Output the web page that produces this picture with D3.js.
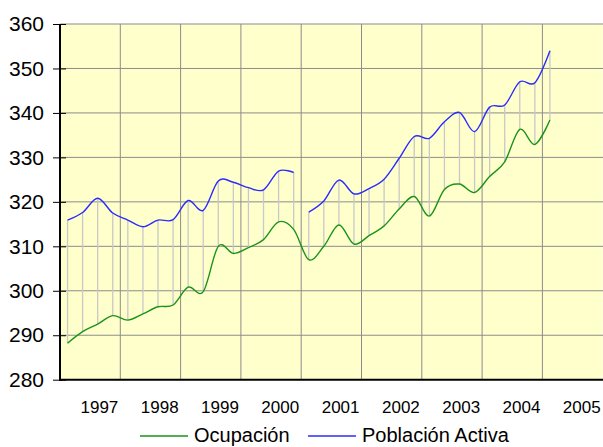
<!DOCTYPE html>
<html>
<head>
<meta charset="utf-8">
<script src="https://cdn.jsdelivr.net/npm/d3@7"></script>
<style>
  html, body { margin: 0; padding: 0; background: #ffffff; }
  svg { display: block; font-family: "Liberation Sans", Arial, sans-serif; }
</style>
</head>
<body>
<svg id="chart" width="603" height="447"></svg>
<script>
// ---- data ----
const years = ["1997", "1998", "1999", "2000", "2001", "2002", "2003", "2004", "2005"];
const yTicks = [280, 290, 300, 310, 320, 330, 340, 350, 360];
// quarterly values (33 quarters)
const ocupacion = [288.2, 290.8, 292.5, 294.4, 293.4, 294.8, 296.4, 296.8, 300.8,
  299.8, 310.0, 308.4, 309.7, 311.5, 315.5, 313.8, 307.0, 310.0, 314.8, 310.5,
  312.4, 314.6, 318.4, 321.2, 316.8, 322.8, 324.0, 322.1, 325.7, 329.0, 336.3,
  332.9, 338.4];
const poblacionActiva = [315.9, 317.6, 320.8, 317.5, 315.9, 314.4, 315.9, 316.0, 320.3,
  318.1, 324.7, 324.4, 323.2, 322.7, 326.9, 326.6, 317.7, 320.2, 324.9, 321.8,
  323.0, 325.1, 329.8, 334.7, 334.3, 338.0, 340.1, 335.8, 341.3, 341.8, 347.0,
  346.8, 354.0];
const poblacionBreaks = [16]; // series restarts (not joined) at this quarter index
const seriesNames = ["Ocupación", "Población Activa"];
const seriesColors = ["#1a931a", "#2b2bff"];

// ---- layout ----
const svg = d3.select("#chart");
const plot = { left: 60, top: 24, right: 602.7, bottom: 379.7 };

const xBand = d3.scaleBand().domain(years).range([plot.left, plot.right]).padding(0);
const quartersPerYear = 4;
const xQ = d3.scaleLinear().domain([0, years.length * quartersPerYear]).range([plot.left, plot.right]);
const y = d3.scaleLinear().domain([280, 360]).range([plot.bottom, plot.top]);

// plot background
svg.append("rect")
  .attr("x", plot.left).attr("y", plot.top)
  .attr("width", plot.right - plot.left).attr("height", plot.bottom - plot.top)
  .attr("fill", "#ffffcc");

// horizontal gridlines
svg.append("g").selectAll("line").data(yTicks.filter(d => d > 280)).join("line")
  .attr("x1", plot.left).attr("x2", 603)
  .attr("y1", d => y(d)).attr("y2", d => y(d))
  .attr("stroke", "#8c8c8c").attr("stroke-width", 1);

// vertical gridlines at year boundaries
svg.append("g").selectAll("line").data(years.slice(1)).join("line")
  .attr("x1", d => xBand(d)).attr("x2", d => xBand(d))
  .attr("y1", plot.top).attr("y2", plot.bottom)
  .attr("stroke", "#8c8c8c").attr("stroke-width", 1);

const xi = i => xQ(i + 0.5);

// high-low drop lines
svg.append("g").selectAll("line").data(ocupacion).join("line")
  .attr("x1", (d, i) => xi(i)).attr("x2", (d, i) => xi(i))
  .attr("y1", d => y(d)).attr("y2", (d, i) => y(poblacionActiva[i]))
  .attr("stroke", "#c8c8c8").attr("stroke-width", 1.3);

// lines
const line = d3.line().x(d => xi(d.i)).y(d => y(d.v)).curve(d3.curveCardinal.tension(0));

function segments(values, breaks) {
  const pts = values.map((v, i) => ({ i, v }));
  const cuts = [0, ...breaks, pts.length];
  const segs = [];
  for (let k = 0; k < cuts.length - 1; k++) segs.push(pts.slice(cuts[k], cuts[k + 1]));
  return segs;
}

svg.append("g").selectAll("path").data(segments(ocupacion, [])).join("path")
  .attr("d", line).attr("fill", "none")
  .attr("stroke", seriesColors[0]).attr("stroke-width", 1.4);

svg.append("g").selectAll("path").data(segments(poblacionActiva, poblacionBreaks)).join("path")
  .attr("d", line).attr("fill", "none")
  .attr("stroke", seriesColors[1]).attr("stroke-width", 1.4);

// y axis
const yAxis = d3.axisLeft(y).tickValues(yTicks).tickSize(7).tickPadding(9);
const gy = svg.append("g").attr("transform", `translate(${plot.left},0)`).call(yAxis);
gy.select(".domain").remove();
gy.selectAll(".tick line").attr("x2", -7).attr("x1", 6).attr("stroke", "#000");
gy.selectAll(".tick text").attr("font-size", 21).attr("fill", "#000")
  .attr("font-family", "Liberation Sans, Arial, sans-serif").attr("x", -16);
svg.append("line").attr("x1", plot.left).attr("x2", plot.left)
  .attr("y1", plot.top).attr("y2", plot.bottom + 1)
  .attr("stroke", "#000").attr("stroke-width", 2);

// x axis
svg.append("line").attr("x1", plot.left - 1).attr("x2", 603)
  .attr("y1", plot.bottom).attr("y2", plot.bottom)
  .attr("stroke", "#000").attr("stroke-width", 2);
svg.append("g").selectAll("text").data(years).join("text")
  .attr("x", d => xBand(d) + xBand.bandwidth() - 2)
  .attr("y", 413)
  .attr("text-anchor", "end")
  .attr("font-size", 17).attr("fill", "#000")
  .text(d => d);

// legend
const legend = [
  { name: seriesNames[0], color: seriesColors[0], x: 140 },
  { name: seriesNames[1], color: seriesColors[1], x: 308 }
];
const lg = svg.append("g").selectAll("g").data(legend).join("g")
  .attr("transform", d => `translate(${d.x},436)`);
lg.append("line").attr("x1", 0).attr("x2", 48).attr("y1", 0).attr("y2", 0)
  .attr("stroke", d => d.color).attr("stroke-width", 1.4);
lg.append("text").attr("x", 54).attr("y", 5.5)
  .attr("font-size", 20).attr("fill", "#000").text(d => d.name);
</script>
</body>
</html>
